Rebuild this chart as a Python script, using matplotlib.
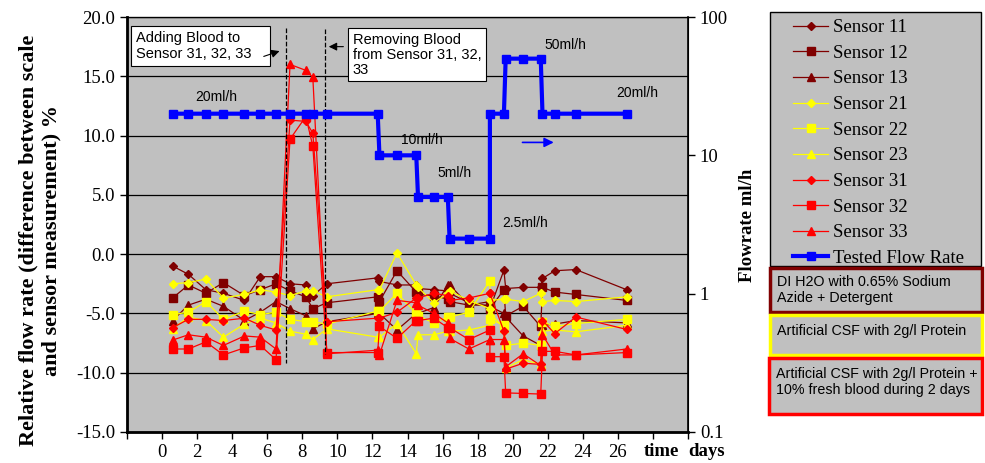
import matplotlib
matplotlib.use('Agg')
import matplotlib.pyplot as plt
import numpy as np
from matplotlib.patches import Rectangle
from matplotlib.ticker import NullLocator

plt.rcParams['axes.unicode_minus'] = False

SERIF = 'Liberation Serif'
SANS = 'Liberation Sans'

# measurement days (two readings at the flow changes)
days = [0.6, 1.5, 2.5, 3.5, 4.7, 5.6, 6.5, 7.3, 8.2, 8.6, 9.4, 12.3, 12.4, 13.4,
        14.5, 14.6, 15.5, 16.3, 16.4, 17.5, 18.7, 18.7, 19.5, 19.6, 20.6, 21.6,
        21.7, 22.4, 23.6, 26.5]

flow = [20, 20, 20, 20, 20, 20, 20, 20, 20, 20, 20, 20, 10, 10,
        10, 5, 5, 5, 2.5, 2.5, 2.5, 20, 20, 50, 50, 50,
        20, 20, 20, 20]

s11 = [-1.0, -1.7, -3.0, -3.3, -3.9, -1.9, -1.9, -2.5, -2.6, -3.5, -2.5, -2.0, -2.3, -2.6,
       -2.6, -2.9, -3.0, -3.1, -3.3, -4.1, -4.4, -4.6, -1.35, -2.9, -2.8, -2.8,
       -2.05, -1.4, -1.3, -3.0]
s12 = [-3.7, -2.6, -3.3, -2.4, -3.5, -3.0, -2.5, -3.1, -3.6, -4.6, -4.1, -3.6, -4.0, -1.4,
       -3.2, -3.4, -3.5, -3.8, -4.0, -4.3, -4.3, -4.6, -3.0, -5.2, -4.4, -6.1,
       -2.8, -3.2, -3.4, -3.9]
s13 = [-5.6, -4.3, -3.8, -4.4, -5.6, -4.9, -4.0, -4.6, -5.2, -6.3, -5.7, -5.0, -5.0, -6.4,
       -5.0, -5.0, -4.5, -2.6, -2.6, -4.3, -4.0, -4.4, -5.0, -5.3, -6.9, -7.7,
       -6.0, -5.9, -5.6, -5.8]
s21 = [-2.5, -2.4, -2.1, -3.7, -3.4, -3.0, -3.2, -3.5, -3.1, -3.1, -3.6, -3.0, -3.0, 0.1,
       -2.6, -2.8, -4.1, -3.3, -3.1, -3.9, -4.6, -3.9, -3.8, -3.8, -4.0, -3.3,
       -4.0, -3.9, -4.0, -3.6]
s22 = [-5.1, -4.9, -4.0, -5.5, -4.8, -5.1, -4.9, -5.5, -5.7, -5.7, -5.9, -4.8, -4.8, -3.3,
       -5.0, -5.2, -5.8, -5.3, -5.3, -4.9, -2.25, -5.5, -6.0, -7.7, -7.5, -7.7,
       -5.7, -6.1, -5.85, -5.5]
s23 = [-6.3, -5.3, -5.6, -7.0, -5.9, -5.4, -5.8, -6.5, -6.75, -7.2, -6.3, -7.0, -7.0, -5.85,
       -8.4, -6.8, -6.8, -6.5, -6.5, -6.4, -6.0, -5.0, -6.2, -9.6, -8.9, -9.3,
       -6.5, -6.4, -6.55, -6.0]
s31 = [-6.2, -5.5, -5.5, -5.6, -5.4, -6.0, -6.4, 11.3, 11.2, 10.2, -5.7, -5.4, -5.4, -4.9,
       -3.7, -3.7, -3.3, -3.5, -3.9, -3.7, -3.3, -3.3, -6.5, -9.7, -9.2, -9.3,
       -5.6, -6.7, -5.3, -6.35]
s32 = [-8.0, -8.0, -7.4, -8.5, -7.9, -7.7, -8.9, 9.7, 11.6, 9.1, -8.3, -8.3, -6.1, -7.1,
       -5.6, -5.6, -5.4, -6.2, -6.2, -7.2, -6.4, -8.65, -8.65, -11.7, -11.75, -11.8,
       -8.2, -8.2, -8.5, -8.3]
s33 = [-7.25, -6.8, -7.0, -7.7, -6.9, -7.0, -8.0, 16.0, 15.5, 14.9, -8.4, -8.1, -8.5, -3.9,
       -4.1, -4.3, -5.0, -5.8, -7.1, -8.0, -7.2, -7.2, -7.2, -9.5, -8.4, -9.4,
       -6.8, -8.5, -8.5, -8.0]

sensors = [('Sensor 11', s11), ('Sensor 12', s12), ('Sensor 13', s13),
           ('Sensor 21', s21), ('Sensor 22', s22), ('Sensor 23', s23),
           ('Sensor 31', s31), ('Sensor 32', s32), ('Sensor 33', s33)]
colors = ['#800000'] * 3 + ['#FFFF00'] * 3 + ['#FF0000'] * 3
markers = ['D', 's', '^'] * 3
msizes = [4.5, 5.5, 5.5] * 3

flow_labels = [(3.1, 26.5, '20ml/h'), (14.8, 12.9, '10ml/h'), (16.7, 7.5, '5ml/h'),
               (20.7, 3.25, '2.5ml/h'), (23.0, 63, '50ml/h'), (27.1, 28.3, '20ml/h')]

W, H = 985, 463
fig = plt.figure(figsize=(W / 100, H / 100), dpi=100)
ax = fig.add_axes([127 / W, 1 - 432 / H, (688 - 127) / W, (432 - 17) / H])
ax.set_facecolor('#C0C0C0')

handles = []
for (name, vals), c, m, ms in zip(sensors, colors, markers, msizes):
    h, = ax.plot(days, vals, color=c, lw=0.9, marker=m, ms=ms, mfc=c, mec=c, label=name)
    handles.append(h)

ax.set_xlim(-2, 30)
ax.set_ylim(-15, 20)
ax.set_xticks(np.arange(-2, 31, 2))
ax.set_xticklabels(['' if (t < 0 or t > 26) else str(t) for t in range(-2, 31, 2)])
ax.set_yticks(np.arange(-15, 21, 5))
ax.set_yticklabels(['%.1f' % v for v in np.arange(-15, 21, 5)])
ax.yaxis.grid(True, color='black', lw=0.9)
ax.set_axisbelow(True)
for lab in ax.get_xticklabels() + ax.get_yticklabels():
    lab.set_fontfamily(SERIF)
    lab.set_fontsize(13.5)
ax.tick_params(direction='out', length=5, width=1)
ax.spines['left'].set_linewidth(2)
ax.spines['bottom'].set_linewidth(2)
ax.spines['top'].set_linewidth(0.9)

# blood added / removed
ax.plot([7.05, 7.05], [19.1, -9.2], color='black', ls='--', lw=0.9)
ax.plot([9.3, 9.3], [19.0, -8.4], color='black', ls='--', lw=0.9)
ax.text(0.016, 0.966, 'Adding Blood to      \nSensor 31, 32, 33', transform=ax.transAxes,
        ha='left', va='top', fontsize=10.5, family=SANS, linespacing=1.15,
        bbox=dict(boxstyle='square,pad=0.35', fc='white', ec='black', lw=0.8))
ax.text(0.402, 0.962, 'Removing Blood  \nfrom Sensor 31, 32,\n33', transform=ax.transAxes,
        ha='left', va='top', fontsize=10.5, family=SANS, linespacing=1.1,
        bbox=dict(boxstyle='square,pad=0.3', fc='white', ec='black', lw=0.8))
ax.annotate('', xy=(6.85, 17.2), xytext=(5.65, 16.6),
            arrowprops=dict(arrowstyle='-|>', color='black', lw=0.8, mutation_scale=12))
ax.annotate('', xy=(9.35, 17.5), xytext=(10.5, 17.5),
            arrowprops=dict(arrowstyle='-|>', color='black', lw=0.8, mutation_scale=12))

ax2 = ax.twinx()
fh, = ax2.plot(days, flow, color='#0000FF', lw=3, marker='s', ms=6, label='Tested Flow Rate')
handles.append(fh)
ax2.set_yscale('log')
ax2.set_ylim(0.1, 100)
ax2.set_yticks([0.1, 1, 10, 100])
ax2.set_yticklabels(['0.1', '1', '10', '100'])
ax2.yaxis.set_minor_locator(NullLocator())
for lab in ax2.get_yticklabels():
    lab.set_fontfamily(SERIF)
    lab.set_fontsize(13.5)
ax2.tick_params(direction='out', length=5, width=1)
ax2.spines['right'].set_linewidth(1.2)
for x, y, t in flow_labels:
    ax2.text(x, y, t, ha='center', va='center', fontsize=10, family=SANS)
ax2.annotate('', xy=(22.5, 12.4), xytext=(20.4, 12.4),
             arrowprops=dict(arrowstyle='-|>', color='#0000FF', lw=1.2, mutation_scale=14))

fig.text(40 / W, 1 - 240 / H, 'Relative flow rate (difference between scale\nand sensor measurement) %',
         rotation=90, ha='center', va='center', multialignment='center',
         fontsize=16, fontweight='bold', family=SERIF, linespacing=1.2)
fig.text(748 / W, 1 - 225 / H, 'Flowrate ml/h', rotation=90, ha='center', va='center',
         fontsize=13.5, fontweight='bold', family=SERIF)
fig.text(661 / W, 1 - 452 / H, 'time', ha='center', va='center', fontsize=13.5,
         fontweight='bold', family=SERIF)
fig.text(707 / W, 1 - 452 / H, 'days', ha='center', va='center', fontsize=13.5,
         fontweight='bold', family=SERIF)

# legend box
fig.add_artist(Rectangle((770 / W, 1 - 266 / H), 211 / W, 254 / H, transform=fig.transFigure,
                         fc='#C0C0C0', ec='black', lw=1, zorder=1))
leg = fig.legend(handles, [h.get_label() for h in handles], loc='upper left',
                 bbox_to_anchor=(793 / W, 1 - 19 / H), frameon=False,
                 borderaxespad=0, borderpad=0, prop={'family': SERIF, 'size': 13.5},
                 handlelength=1.87, labelspacing=0.455, handletextpad=0.27)
leg.set_zorder(5)

conditions = [((770, 268, 212, 44), '#800000', 'DI H2O with 0.65% Sodium\nAzide + Detergent', 290),
              ((770, 315, 212, 40), '#FFFF00', 'Artificial CSF with 2g/l Protein', 331),
              ((769, 358, 213, 56), '#FF0000', 'Artificial CSF with 2g/l Protein +\n10% fresh blood during 2 days', 382)]
for (x0, y0, w, h), ec, txt, yc in conditions:
    fig.add_artist(Rectangle((x0 / W, 1 - (y0 + h) / H), w / W, h / H, transform=fig.transFigure,
                             fc='#C0C0C0', ec=ec, lw=2.5))
    fig.text((x0 + 7) / W, 1 - yc / H, txt, ha='left', va='center', fontsize=10.3,
             family=SANS, linespacing=1.15)

fig.savefig('out.png', dpi=100)
